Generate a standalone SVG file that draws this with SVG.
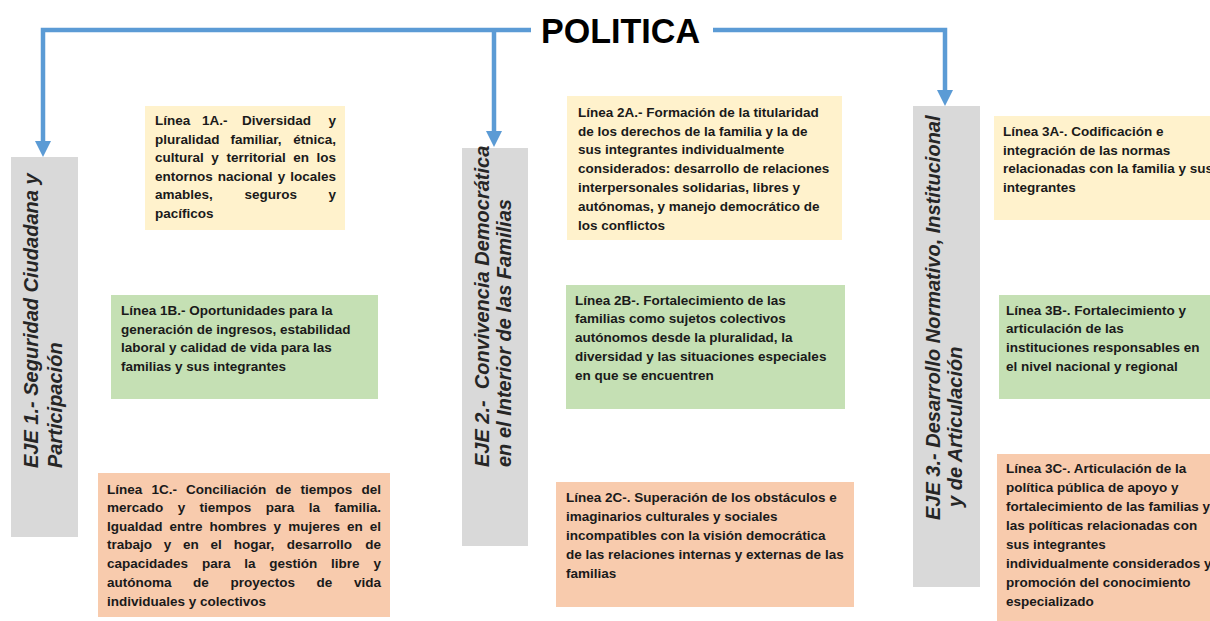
<svg xmlns="http://www.w3.org/2000/svg" width="1210" height="621" viewBox="0 0 1210 621">
<style>
.t{font-family:"Liberation Sans",Arial,sans-serif;font-weight:bold;font-size:13.5px;fill:#1a1a1a}
.eje{font-family:"Liberation Sans",Arial,sans-serif;font-weight:bold;font-style:italic;font-size:20px;fill:#262626}
.title{font-family:"Liberation Sans",Arial,sans-serif;font-weight:bold;font-size:35px;fill:#000}
.conn{fill:none;stroke:#5B9BD5;stroke-width:4.5}
.grey{fill:#D9D9D9}
.yel{fill:#FFF2CC}
.grn{fill:#C5E0B4}
.pch{fill:#F8CBAD}
</style>
<defs>
<marker id="arr" markerUnits="userSpaceOnUse" markerWidth="16" markerHeight="16" refX="0" refY="8" orient="auto">
<path d="M0,0 L16,8 L0,16 z" fill="#5B9BD5"/>
</marker>
</defs>
<rect width="1210" height="621" fill="#fff"/>

<g id="connectors">
<path class="conn" d="M531,30 H43 V141" marker-end="url(#arr)"/>
<path class="conn" d="M494,30 V131" marker-end="url(#arr)"/>
<path class="conn" d="M713,30 H945 V90" marker-end="url(#arr)"/>
</g>

<g id="politica">
<text class="title" x="541" y="43" textLength="159" lengthAdjust="spacingAndGlyphs">POLITICA</text>
</g>

<g id="eje1">
<rect class="grey" x="11" y="157" width="67" height="380"/>
<text class="eje" transform="translate(38,468) rotate(-90)"><tspan x="0" y="0">EJE 1.- Seguridad Ciudadana y</tspan><tspan x="0" y="24">Participación</tspan></text>
</g>

<g id="eje2">
<rect class="grey" x="462" y="148" width="66" height="398"/>
<text class="eje" transform="translate(489,467) rotate(-90)"><tspan x="0" y="0">EJE 2.-&#160; Convivencia Democrática</tspan><tspan x="0" y="22">en el Interior de las Familias</tspan></text>
</g>

<g id="eje3">
<rect class="grey" x="913" y="106" width="67" height="481"/>
<text class="eje" transform="translate(940,520) rotate(-90)"><tspan x="0" y="0">EJE 3.- Desarrollo Normativo, Institucional</tspan><tspan x="13" y="22">y de Articulación</tspan></text>
</g>

<g id="linea1A">
<rect class="yel" x="145" y="106" width="200" height="124"/>
<text class="t" y="125"><tspan x="155">Línea</tspan><tspan x="202">1A.-</tspan><tspan x="242">Diversidad</tspan><tspan x="328.5">y</tspan></text>
<text class="t" y="143.5"><tspan x="155">pluralidad</tspan><tspan x="230.5">familiar,</tspan><tspan x="293.2">étnica,</tspan></text>
<text class="t" y="162"><tspan x="155">cultural</tspan><tspan x="211.3">y</tspan><tspan x="226.4">territorial</tspan><tspan x="293.2">en</tspan><tspan x="316.5">los</tspan></text>
<text class="t" y="180.5"><tspan x="155">entornos</tspan><tspan x="217.8">nacional</tspan><tspan x="277.7">y</tspan><tspan x="290.2">locales</tspan></text>
<text class="t" y="199"><tspan x="155">amables,</tspan><tspan x="244.4">seguros</tspan><tspan x="328.5">y</tspan></text>
<text class="t" x="155" y="217.5">pacíficos</text>
</g>

<g id="linea1B">
<rect class="grn" x="111" y="295" width="267" height="104"/>
<text class="t" x="121" y="315">Línea 1B.- Oportunidades para la</text>
<text class="t" x="121" y="334">generación de ingresos, estabilidad</text>
<text class="t" x="121" y="352">laboral y calidad de vida para las</text>
<text class="t" x="121" y="371">familias y sus integrantes</text>
</g>

<g id="linea1C">
<rect class="pch" x="98" y="473" width="292" height="144"/>
<text class="t" y="494"><tspan x="107">Línea</tspan><tspan x="151.5">1C.-</tspan><tspan x="186.1">Conciliación</tspan><tspan x="275.6">de</tspan><tspan x="300.6">tiempos</tspan><tspan x="361.5">del</tspan></text>
<text class="t" y="512"><tspan x="107">mercado</tspan><tspan x="177.7">y</tspan><tspan x="199.6">tiempos</tspan><tspan x="265.8">para</tspan><tspan x="308.8">la</tspan><tspan x="334.5">familia.</tspan></text>
<text class="t" y="531"><tspan x="107">Igualdad</tspan><tspan x="169.5">entre</tspan><tspan x="209.6">hombres</tspan><tspan x="273.6">y</tspan><tspan x="288.2">mujeres</tspan><tspan x="347">en</tspan><tspan x="369.7">el</tspan></text>
<text class="t" y="549"><tspan x="107">trabajo</tspan><tspan x="163.8">y</tspan><tspan x="183.1">en</tspan><tspan x="210.6">el</tspan><tspan x="233.7">hogar,</tspan><tspan x="286.7">desarrollo</tspan><tspan x="365.2">de</tspan></text>
<text class="t" y="568"><tspan x="107">capacidades</tspan><tspan x="201.9">para</tspan><tspan x="244.2">la</tspan><tspan x="269.3">gestión</tspan><tspan x="331.1">libre</tspan><tspan x="373.5">y</tspan></text>
<text class="t" y="587"><tspan x="107">autónoma</tspan><tspan x="193.1">de</tspan><tspan x="230.5">proyectos</tspan><tspan x="316.6">de</tspan><tspan x="354">vida</tspan></text>
<text class="t" x="107" y="606">individuales y colectivos</text>
</g>

<g id="linea2A">
<rect class="yel" x="567" y="96" width="275" height="144"/>
<text class="t" x="578" y="117">Línea 2A.- Formación de la titularidad</text>
<text class="t" x="578" y="136">de los derechos de la familia y la de</text>
<text class="t" x="578" y="154">sus integrantes individualmente</text>
<text class="t" x="578" y="173">considerados: desarrollo de relaciones</text>
<text class="t" x="578" y="192">interpersonales solidarias, libres y</text>
<text class="t" x="578" y="211">autónomas, y manejo democrático de</text>
<text class="t" x="578" y="230">los conflictos</text>
</g>

<g id="linea2B">
<rect class="grn" x="566" y="285" width="279" height="124"/>
<text class="t" x="575" y="305">Línea 2B-. Fortalecimiento de las</text>
<text class="t" x="575" y="323">familias como sujetos colectivos</text>
<text class="t" x="575" y="342">autónomos desde la pluralidad, la</text>
<text class="t" x="575" y="361">diversidad y las situaciones especiales</text>
<text class="t" x="575" y="380">en que se encuentren</text>
</g>

<g id="linea2C">
<rect class="pch" x="556" y="482" width="298" height="125"/>
<text class="t" x="566" y="502">Línea 2C-. Superación de los obstáculos e</text>
<text class="t" x="566" y="521">imaginarios culturales y sociales</text>
<text class="t" x="566" y="540">incompatibles con la visión democrática</text>
<text class="t" x="566" y="559">de las relaciones internas y externas de las</text>
<text class="t" x="566" y="578">familias</text>
</g>

<g id="linea3A">
<rect class="yel" x="994" y="116" width="230" height="104"/>
<text class="t" x="1003" y="136">Línea 3A-. Codificación e</text>
<text class="t" x="1003" y="155">integración de las normas</text>
<text class="t" x="1003" y="173">relacionadas con la familia y sus</text>
<text class="t" x="1003" y="192">integrantes</text>
</g>

<g id="linea3B">
<rect class="grn" x="999" y="295" width="230" height="104"/>
<text class="t" x="1006" y="315">Línea 3B-. Fortalecimiento y</text>
<text class="t" x="1006" y="333">articulación de las</text>
<text class="t" x="1006" y="352">instituciones responsables en</text>
<text class="t" x="1006" y="371">el nivel nacional y regional</text>
</g>

<g id="linea3C">
<rect class="pch" x="997" y="454" width="230" height="168"/>
<text class="t" x="1006" y="473">Línea 3C-. Articulación de la</text>
<text class="t" x="1006" y="492">política pública de apoyo y</text>
<text class="t" x="1006" y="511">fortalecimiento de las familias y</text>
<text class="t" x="1006" y="530">las políticas relacionadas con</text>
<text class="t" x="1006" y="549">sus integrantes</text>
<text class="t" x="1006" y="568">individualmente considerados y</text>
<text class="t" x="1006" y="587">promoción del conocimiento</text>
<text class="t" x="1006" y="606">especializado</text>
</g>
</svg>
